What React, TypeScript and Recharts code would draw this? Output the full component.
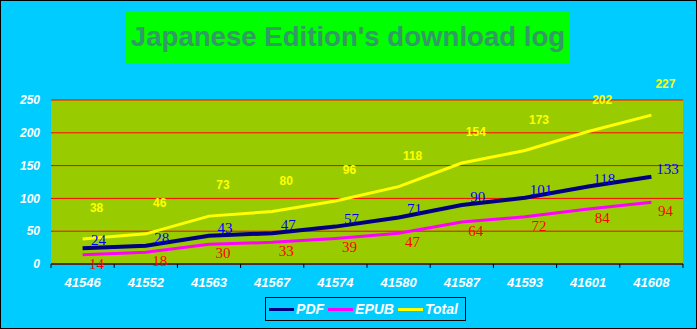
import React from "react";
import {
  LineChart,
  Line,
  XAxis,
  YAxis,
  CartesianGrid,
  Legend,
} from "recharts";

const dates = ["41546", "41552", "41563", "41567", "41574", "41580", "41587", "41593", "41601", "41608"];
const pdf = [24, 28, 43, 47, 57, 71, 90, 101, 118, 133];
const epub = [14, 18, 30, 33, 39, 47, 64, 72, 84, 94];
const total = [38, 46, 73, 80, 96, 118, 154, 173, 202, 227];
const yTicks = [0, 50, 100, 150, 200, 250];

const data = dates.map((d, i) => ({ date: d, PDF: pdf[i], EPUB: epub[i], Total: total[i] }));

const W = 697;
const H = 329;
const margin = { top: 100, right: 14, bottom: 11, left: 0 };
const yAxisWidth = 51;
const step = (W - margin.left - margin.right - yAxisWidth) / dates.length;

const XTick = ({ x, y, payload, index }: any) => (
  <g>
    <line x1={x - step / 2} y1={y} x2={x - step / 2} y2={y + 4} stroke="#000" />
    {index === dates.length - 1 && (
      <line x1={x + step / 2} y1={y} x2={x + step / 2} y2={y + 4} stroke="#000" />
    )}
    <text
      x={x}
      y={y + 23}
      textAnchor="middle"
      fill="#fff"
      fontSize={13}
      fontWeight="bold"
      fontStyle="italic"
      fontFamily="Liberation Sans, Arial, sans-serif"
    >
      {payload.value}
    </text>
  </g>
);

// value labels drawn next to each point (dot renderer)
const makeLabel = (key: string, color: string, dx: number, dy: number, serif: boolean, size: number) =>
  (props: any) => (
    <text
      key={`${key}-${props.index}`}
      x={props.cx + dx}
      y={props.cy + dy}
      textAnchor="middle"
      dominantBaseline="central"
      fill={color}
      fontSize={size}
      fontWeight={serif ? "normal" : "bold"}
      fontFamily={serif ? "Liberation Serif, Times New Roman, serif" : "Liberation Sans, Arial, sans-serif"}
    >
      {props.payload[key]}
    </text>
  );

const legendItems = [
  { name: "PDF", color: "#000080" },
  { name: "EPUB", color: "#FF00FF" },
  { name: "Total", color: "#FFFF00" },
];

const LegendBox = () => (
  <div
    style={{
      border: "1px solid #000",
      height: 24,
      boxSizing: "border-box",
      display: "flex",
      alignItems: "center",
      justifyContent: "center",
      fontFamily: "Liberation Sans, Arial, sans-serif",
      fontSize: 14,
      fontWeight: "bold",
      fontStyle: "italic",
      color: "#fff",
    }}
  >
    {legendItems.map((it) => (
      <span key={it.name} style={{ display: "flex", alignItems: "center", marginRight: 4 }}>
        <span style={{ display: "inline-block", width: 25, height: 3, background: it.color, marginRight: 2 }} />
        {it.name}
      </span>
    ))}
  </div>
);

export default function App() {
  return (
    <div style={{ position: "fixed", left: 0, top: 0, width: W, height: H, background: "#00CCFF" }}>
      <LineChart width={W} height={H} data={data} margin={margin}>
        <CartesianGrid vertical={false} stroke="#FF0000" fill="#99CC00" fillOpacity={1} />
        <XAxis
          dataKey="date"
          scale="band"
          axisLine={{ stroke: "#000", strokeWidth: 1 }}
          tickLine={false}
          tickSize={0}
          tickMargin={0}
          height={30}
          interval={0}
          tick={<XTick />}
        />
        <YAxis
          width={yAxisWidth}
          domain={[0, 250]}
          ticks={yTicks}
          axisLine={false}
          tickLine={false}
          tickMargin={5}
          tick={{
            fill: "#fff",
            fontSize: 12,
            fontWeight: "bold",
            fontStyle: "italic",
            fontFamily: "Liberation Sans, Arial, sans-serif",
          }}
        />
        <Legend
          content={<LegendBox />}
          verticalAlign="bottom"
          wrapperStyle={{ left: 265, width: 201, height: 24, bottom: 8 }}
        />
        <Line
          type="linear"
          dataKey="PDF"
          stroke="#000080"
          strokeWidth={4}
          dot={makeLabel("PDF", "#0000FF", 16, -8, true, 15)}
          activeDot={false}
          isAnimationActive={false}
        />
        <Line
          type="linear"
          dataKey="EPUB"
          stroke="#FF00FF"
          strokeWidth={3}
          dot={makeLabel("EPUB", "#FF0000", 14, 9, true, 15)}
          activeDot={false}
          isAnimationActive={false}
        />
        <Line
          type="linear"
          dataKey="Total"
          stroke="#FFFF00"
          strokeWidth={3}
          dot={makeLabel("Total", "#FFFF00", 14, -31, false, 12)}
          activeDot={false}
          isAnimationActive={false}
        />
      </LineChart>
      <div
        style={{
          position: "absolute",
          left: 126,
          top: 11,
          width: 444,
          height: 52,
          background: "#00FF00",
          color: "#339966",
          fontFamily: "Liberation Sans, Arial, sans-serif",
          fontWeight: "bold",
          fontSize: 27.6,
          lineHeight: "52px",
          textAlign: "center",
        }}
      >
        Japanese Edition's download log
      </div>
      <div
        style={{
          position: "absolute",
          left: 0,
          top: 0,
          width: W,
          height: H,
          border: "1px solid #000",
          boxSizing: "border-box",
          pointerEvents: "none",
        }}
      />
    </div>
  );
}
